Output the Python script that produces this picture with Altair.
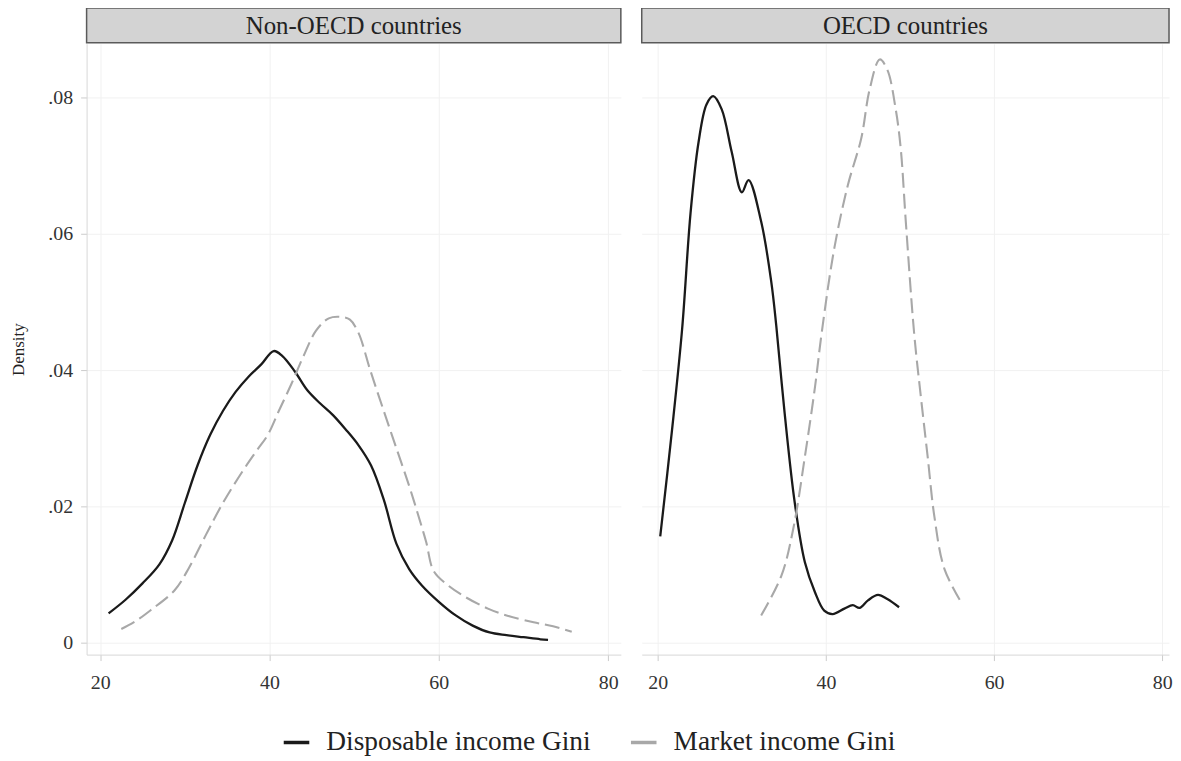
import altair as alt
import pandas as pd

series_names = ["Disposable income Gini", "Market income Gini"]
panel_names = ["Non-OECD countries", "OECD countries"]

x_ticks = [20, 40, 60, 80]
y_ticks = [0, 0.02, 0.04, 0.06, 0.08]

# Non-OECD, disposable income Gini (solid black)
non_disp_x = [21.0, 23.0, 25.0, 27.0, 28.5, 30.0, 31.5, 33.0, 34.5, 36.0, 37.5, 39.0,
              40.5, 41.5, 43.0, 44.5, 46.0, 47.5, 49.0, 50.5, 52.0, 53.5, 55.0, 56.5,
              58.0, 60.0, 62.0, 64.0, 66.0, 68.0, 70.0, 72.0, 72.9]
non_disp_y = [0.0043, 0.0063, 0.0087, 0.0115, 0.0150, 0.0205, 0.0260, 0.0305, 0.0340,
              0.0368, 0.0390, 0.0408, 0.0428, 0.0421, 0.0398, 0.0370, 0.0351, 0.0334,
              0.0313, 0.0290, 0.0260, 0.0210, 0.0145, 0.0108, 0.0084, 0.0060, 0.0040,
              0.0025, 0.0015, 0.0011, 0.0008, 0.0005, 0.0004]

# Non-OECD, market income Gini (dashed grey)
non_mkt_x = [22.5, 24.0, 26.0, 28.8, 30.5, 32.4, 34.5, 36.9, 38.5, 39.8, 41.1, 42.6,
             44.0, 45.5, 47.0, 48.5, 49.5, 50.5, 51.9, 53.5, 55.0, 56.5, 57.5, 58.5,
             59.4, 61.0, 63.0, 65.8, 68.0, 71.2, 73.5, 75.7]
non_mkt_y = [0.0020, 0.0030, 0.0048, 0.0077, 0.0110, 0.0156, 0.0205, 0.0253, 0.0282,
              0.0305, 0.0340, 0.0380, 0.0420, 0.0458, 0.0476, 0.0478, 0.0474, 0.0455,
              0.0400, 0.0340, 0.0285, 0.0230, 0.0190, 0.0148, 0.0105, 0.0085, 0.0068,
              0.0050, 0.0040, 0.0030, 0.0024, 0.0016]

# OECD, disposable income Gini (solid black)
oecd_disp_x = [20.3, 21.7, 22.9, 23.9, 24.85, 25.8, 26.6, 27.6, 28.8, 30.0, 30.8, 32.3,
               33.5, 34.1, 35.1, 36.3, 37.5, 38.7, 39.8, 40.8, 42.2, 43.2, 44.0, 45.0,
               46.2, 47.3, 48.7]
oecd_disp_y = [0.0156, 0.0312, 0.0460, 0.0630, 0.0734, 0.0790, 0.0802, 0.0783, 0.0720,
               0.0661, 0.0679, 0.0618, 0.0530, 0.0465, 0.0336, 0.0205, 0.0118, 0.0074,
               0.0047, 0.0042, 0.0050, 0.0055, 0.0051, 0.0062, 0.0070, 0.0064, 0.0052]

# OECD, market income Gini (dashed grey)
oecd_mkt_x = [32.3, 34.7, 36.1, 37.5, 38.7, 39.5, 41.0, 42.6, 44.2, 45.2, 46.4, 47.3,
              48.3, 48.9, 49.5, 50.5, 51.3, 52.1, 52.9, 54.1, 56.2]
oecd_mkt_y = [0.0040, 0.0098, 0.0166, 0.0273, 0.0375, 0.0455, 0.0579, 0.0671, 0.0740,
              0.0812, 0.0856, 0.0841, 0.0783, 0.0725, 0.0618, 0.0453, 0.0360, 0.0273,
              0.0185, 0.0108, 0.0057]

rows = []
for panel, series, xs, ys in [
    (panel_names[0], series_names[0], non_disp_x, non_disp_y),
    (panel_names[0], series_names[1], non_mkt_x, non_mkt_y),
    (panel_names[1], series_names[0], oecd_disp_x, oecd_disp_y),
    (panel_names[1], series_names[1], oecd_mkt_x, oecd_mkt_y),
]:
    for a, b in zip(xs, ys):
        rows.append({"panel": panel, "series": series, "gini": a, "density": b})
df = pd.DataFrame(rows)

FONT = "Liberation Serif"
PLOT_H = 614
STRIP_H = 35
y_domain = [-0.00175, 0.0879]

color_scale = alt.Scale(domain=series_names, range=["#1a1a1a", "#a8a8a8"])
legend = alt.Legend(
    title=None, orient="none", legendX=196, legendY=687, direction="horizontal",
    symbolType="stroke", symbolStrokeWidth=3.5, symbolSize=660, symbolDash=[1, 0],
    labelFont=FONT, labelFontSize=27.5, labelColor="#222222", labelOffset=15,
    labelLimit=0, columnPadding=33,
)


def panel_chart(panel, width, x_domain, show_y):
    base = alt.Chart(df).transform_filter(alt.datum.panel == panel)
    x_axis = alt.Axis(values=x_ticks, title=None, grid=True, format="d", labelPadding=12)
    if show_y:
        y_axis = alt.Axis(
            values=y_ticks, title="Density", grid=True,
            labelExpr="datum.value == 0 ? '0' : slice(format(datum.value, '.2f'), 1)",
            titleFont=FONT, titleFontSize=17, titleFontWeight="normal",
            titleColor="#222222", titlePadding=20,
        )
    else:
        y_axis = alt.Axis(values=y_ticks, title=None, grid=True, labels=False,
                          ticks=False, domain=False)
    enc = dict(
        x=alt.X("gini:Q", scale=alt.Scale(domain=x_domain, nice=False, zero=False), axis=x_axis),
        y=alt.Y("density:Q", scale=alt.Scale(domain=y_domain, nice=False, zero=False), axis=y_axis),
        color=alt.Color("series:N", scale=color_scale, legend=legend),
    )
    disp = base.transform_filter(alt.datum.series == series_names[0]).mark_line(
        strokeWidth=2.3, interpolate="catmull-rom").encode(**enc)
    mkt = base.transform_filter(alt.datum.series == series_names[1]).mark_line(
        strokeWidth=2.1, interpolate="catmull-rom", strokeDash=[15, 6]).encode(**enc)
    strip_df = pd.DataFrame({"panel": [panel]})
    strip = alt.Chart(strip_df).mark_rect(
        fill="#d3d3d3", stroke="#5a5a5a", strokeWidth=1.5).encode(
        x=alt.value(0), x2=alt.value(width), y=alt.value(-STRIP_H - 1), y2=alt.value(-1))
    strip_text = alt.Chart(strip_df).mark_text(
        font=FONT, fontSize=25, color="#222222", baseline="middle", align="center").encode(
        x=alt.value(width / 2), y=alt.value(-STRIP_H / 2 - 0.5), text="panel:N")
    return alt.layer(strip, strip_text, disp, mkt).properties(width=width, height=PLOT_H)


left = panel_chart(panel_names[0], 537, [18.4, 81.5], True)
right = panel_chart(panel_names[1], 530, [18.1, 80.8], False)

chart = alt.hconcat(left, right, spacing=19).resolve_scale(
    color="shared").resolve_legend(color="shared").properties(
    padding={"left": 2, "top": -3, "right": 0, "bottom": 0}
).configure_view(strokeWidth=0).configure_axis(
    labelFont=FONT, labelFontSize=20, labelColor="#333333",
    tickColor="#cccccc", tickSize=6, labelPadding=8,
    domainColor="#d8d8d8", gridColor="#f1f1f1", gridWidth=1,
)

chart.save("out.html", embed_options={"renderer": "svg", "actions": False})
